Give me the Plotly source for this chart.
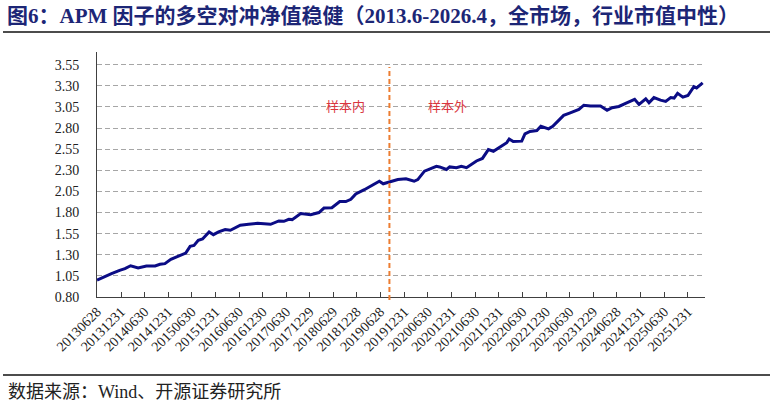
import plotly.graph_objects as go

# ---------------- data ----------------
dates = [
    "2013-06-28", "2013-08-27", "2013-10-18", "2013-12-20", "2014-01-30", "2014-03-15",
    "2014-05-12", "2014-07-15", "2014-09-20", "2014-10-28", "2014-12-05", "2015-01-20",
    "2015-03-15", "2015-05-15", "2015-06-18", "2015-07-18", "2015-08-20", "2015-09-22",
    "2015-11-12", "2015-12-15", "2016-01-24", "2016-03-15", "2016-04-24", "2016-07-10",
    "2016-09-12", "2016-11-20", "2017-03-01", "2017-05-04", "2017-06-12", "2017-07-20",
    "2017-08-15", "2017-10-20", "2018-01-05", "2018-03-10", "2018-04-18", "2018-06-18",
    "2018-08-18", "2018-10-04", "2018-11-12", "2018-12-20", "2019-02-24", "2019-05-10",
    "2019-06-20", "2019-07-20", "2019-09-05", "2019-11-10", "2020-01-12", "2020-03-15",
    "2020-04-12", "2020-06-03", "2020-09-03", "2020-09-28", "2020-11-20", "2020-12-15",
    "2021-02-05", "2021-03-15", "2021-04-24", "2021-07-10", "2021-08-25", "2021-10-10",
    "2021-11-18", "2022-01-28", "2022-03-01", "2022-03-20", "2022-04-20", "2022-06-25",
    "2022-07-20", "2022-08-28", "2022-10-20", "2022-11-20", "2023-01-18", "2023-02-20",
    "2023-05-15", "2023-07-05", "2023-09-10", "2023-10-18", "2023-12-08", "2024-02-24",
    "2024-03-20", "2024-04-15", "2024-05-24", "2024-07-15", "2024-09-18", "2024-11-14",
    "2024-12-18", "2025-02-08", "2025-03-05", "2025-04-12", "2025-06-02", "2025-07-12",
    "2025-08-20", "2025-09-15", "2025-10-12", "2025-11-22", "2025-12-31", "2026-02-15",
    "2026-03-08", "2026-04-24",
]
nav = [
    1.000, 1.045, 1.077, 1.116, 1.136, 1.170,
    1.143, 1.167, 1.167, 1.187, 1.195, 1.246,
    1.285, 1.320, 1.400, 1.410, 1.470, 1.486,
    1.570, 1.538, 1.570, 1.598, 1.590, 1.650,
    1.660, 1.672, 1.660, 1.700, 1.696, 1.720,
    1.716, 1.787, 1.775, 1.800, 1.853, 1.857,
    1.930, 1.930, 1.956, 2.020, 2.070, 2.140,
    2.170, 2.140, 2.160, 2.190, 2.200, 2.170,
    2.190, 2.290, 2.347, 2.340, 2.310, 2.340,
    2.330, 2.347, 2.330, 2.410, 2.440, 2.545,
    2.525, 2.600, 2.627, 2.670, 2.640, 2.645,
    2.730, 2.760, 2.770, 2.820, 2.790, 2.820,
    2.950, 2.980, 3.020, 3.070, 3.060, 3.060,
    3.040, 3.010, 3.040, 3.055, 3.100, 3.140,
    3.080, 3.145, 3.100, 3.160, 3.130, 3.115,
    3.160, 3.155, 3.210, 3.165, 3.185, 3.290,
    3.275, 3.335,
]
tick_labels = [
    "20130628", "20131231", "20140630", "20141231", "20150630", "20151231",
    "20160630", "20161230", "20170630", "20171229", "20180629", "20181228",
    "20190628", "20191231", "20200630", "20201231", "20210630", "20211231",
    "20220630", "20221230", "20230630", "20231229", "20240628", "20241231",
    "20250630", "20251231",
]
tick_dates = [f"{s[:4]}-{s[4:6]}-{s[6:]}" for s in tick_labels]
split_date = "2019-09-06"
label_in = "样本内"
label_out = "样本外"
label_in_pos = ("2018-09-28", 3.07)
label_out_pos = ("2020-11-28", 3.07)

title_text = "图6：APM 因子的多空对冲净值稳健（2013.6-2026.4，全市场，行业市值中性）"
source_text = "数据来源：Wind、开源证券研究所"

# ---------------- layout helpers ----------------
W, H = 774, 405
L, R, T, B = 97, 69, 52, 108
PW, PH = W - L - R, H - T - B


def px_x(px):
    return (px - L) / PW


def px_y(py):
    return (H - B - py) / PH


SERIF = "Liberation Serif, Noto Sans CJK SC, serif"
CJK = "Noto Sans CJK SC, Liberation Serif, serif"

fig = go.Figure()
fig.add_trace(go.Scatter(
    x=dates, y=nav, mode="lines",
    line=dict(color="#0b0c85", width=3),
    hoverinfo="x+y", showlegend=False,
))

fig.update_layout(
    width=W, height=H,
    margin=dict(l=L, r=R, t=T, b=B),
    paper_bgcolor="white", plot_bgcolor="white",
    showlegend=False,
    xaxis=dict(
        type="date",
        range=["2013-06-28", "2026-05-12"],
        tickmode="array", tickvals=tick_dates, ticktext=tick_labels,
        tickangle=-45,
        tickfont=dict(family=SERIF, size=14, color="#222222"),
        showgrid=False, zeroline=False,
        showline=True, linecolor="#404040", linewidth=1,
        ticks="inside", ticklen=5, tickcolor="#404040", tickwidth=1,
    ),
    yaxis=dict(
        range=[0.80, 3.70],
        tickmode="array",
        tickvals=[0.80, 1.05, 1.30, 1.55, 1.80, 2.05, 2.30, 2.55, 2.80, 3.05, 3.30, 3.55],
        tickformat=".2f",
        tickfont=dict(family=SERIF, size=14, color="#222222"),
        showgrid=True, gridcolor="#a6a6a6", gridwidth=1, griddash="5px,3px",
        zeroline=False,
        showline=True, linecolor="#404040", linewidth=1,
        ticks="", ticklabelstandoff=14,
    ),
)

# in/out-of-sample split line
fig.add_shape(type="line", xref="x", yref="paper",
              x0=split_date, x1=split_date, y0=px_y(300), y1=px_y(67),
              line=dict(color="#ed7d31", width=2, dash="5px,3px"))

for text, (xd, yv) in [(label_in, label_in_pos), (label_out, label_out_pos)]:
    fig.add_annotation(x=xd, y=yv, xref="x", yref="y", text=text, showarrow=False,
                       font=dict(family=CJK, size=13, color="#d9363e"))

# title
fig.add_annotation(x=px_x(5), y=px_y(16), xref="paper", yref="paper",
                   xanchor="left", yanchor="middle", showarrow=False,
                   text="<b>" + title_text + "</b>",
                   font=dict(family=SERIF, size=21, color="#1c2676"))
# rule lines
fig.add_shape(type="line", xref="paper", yref="paper",
              x0=px_x(3), x1=px_x(770), y0=px_y(32), y1=px_y(32),
              line=dict(color="#111111", width=1.5))
fig.add_shape(type="line", xref="paper", yref="paper",
              x0=px_x(3), x1=px_x(770), y0=px_y(375), y1=px_y(375),
              line=dict(color="#111111", width=1.5))
# source
fig.add_annotation(x=px_x(6), y=px_y(392), xref="paper", yref="paper",
                   xanchor="left", yanchor="middle", showarrow=False,
                   text=source_text,
                   font=dict(family=SERIF, size=18, color="#222222"))

# remove the default 8px page margin so the figure sits at the window's origin
fig.write_html("out.html", config={"displayModeBar": False},
               post_script="document.body.style.margin='0px';")
